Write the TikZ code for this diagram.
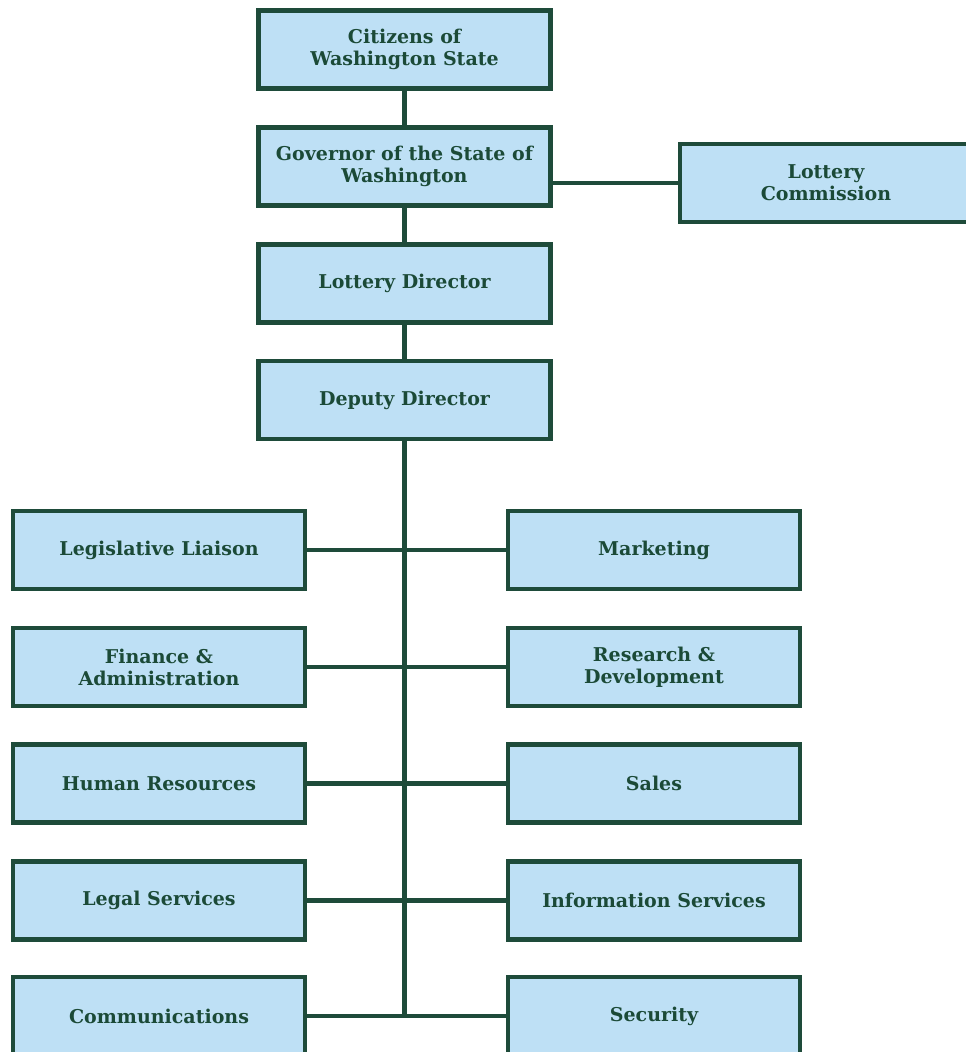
\documentclass[tikz,border=0pt]{standalone}
\usepackage{fontspec}
\setmainfont{DejaVu Serif}
\definecolor{boxfill}{HTML}{BEE0F5}
\definecolor{boxline}{HTML}{1E4B3A}
\definecolor{boxtext}{HTML}{1B4A37}
\begin{document}
\begin{tikzpicture}[x=1pt,y=-1pt,
  orgbox/.style={draw=boxline, fill=boxfill, line width=4.2pt, minimum width=292pt, minimum height=78pt,
    inner sep=0pt, align=center, text=boxtext, font=\fontsize{19}{22}\selectfont\bfseries},
  link/.style={draw=boxline, line width=4.2pt}]
\useasboundingbox (0,0) rectangle (966,1052);
\clip (0,0) rectangle (966,1052);
\node[orgbox] (cit) at (404.5,49.5) {Citizens of\\Washington State};
\node[orgbox] (gov) at (404.5,166.5) {Governor of the State of\\Washington};
\node[orgbox] (com) at (826,183) {Lottery\\Commission};
\node[orgbox] (dir) at (404.5,283.5) {Lottery Director};
\node[orgbox] (dep) at (404.5,400) {Deputy Director};
\node[orgbox] (l1) at (159,550) {Legislative Liaison};
\node[orgbox] (l2) at (159,667) {Finance \&\\Administration};
\node[orgbox] (l3) at (159,783.5) {Human Resources};
\node[orgbox] (l4) at (159,900.5) {Legal Services};
\node[orgbox] (l5) at (159,1016) {Communications};
\node[orgbox] (r1) at (654,550) {Marketing};
\node[orgbox] (r2) at (654,667) {Research \&\\Development};
\node[orgbox] (r3) at (654,783.5) {Sales};
\node[orgbox] (r4) at (654,900.5) {Information Services};
\node[orgbox] (r5) at (654,1016) {Security};
\coordinate (gc) at (gov.east |- com.west);
\coordinate (bot) at (dep.south |- l5.east);
\draw[link] (cit.south) -- (gov.north);
\draw[link] (gov.south) -- (dir.north);
\draw[link] (dir.south) -- (dep.north);
\draw[link] (gc) -- (com.west);
\draw[link] (dep.south) -- (bot);
\foreach \i in {1,...,5}{
  \draw[link] (l\i.east) -- (r\i.west);
}
\end{tikzpicture}
\end{document}
